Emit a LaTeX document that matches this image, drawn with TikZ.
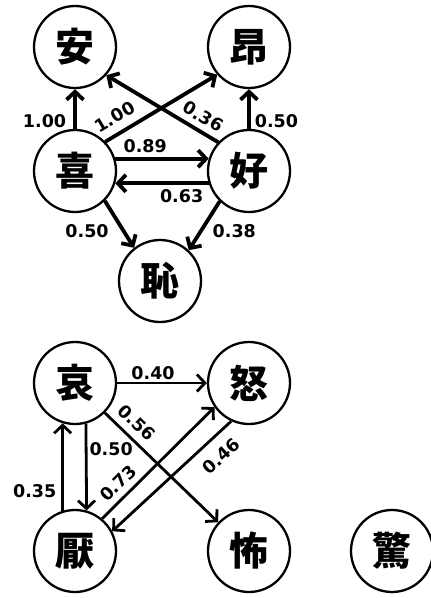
\documentclass[tikz,border=0pt]{standalone}
\usepackage{fontspec}
\setmainfont{DejaVu Sans}
\newfontfamily\cjk{Noto Sans CJK JP}
\usetikzlibrary{arrows.meta}
\begin{document}
\begin{tikzpicture}[x=1pt,y=-1pt,
  emo/.style={circle, draw, line width=2.3pt, minimum size=82pt, inner sep=0pt,
    font=\cjk\bfseries\fontsize{39}{39}\selectfont},
  thick arrow/.style={line width=3.8pt, -{Straight Barb[length=8pt,width=17pt]}},
  thin arrow/.style={line width=2.8pt, -{Straight Barb[length=8pt,width=17pt]}},
  lab/.style={font=\bfseries\fontsize{17.5}{17.5}\selectfont, inner sep=1pt}]
\useasboundingbox (0,0) rectangle (431,598);

% upper cluster
\node[emo] (an)   at (75,47)   {安};
\node[emo] (ang)  at (249,47)  {昂};
\node[emo] (xi)   at (75,171)  {喜};
\node[emo] (hao)  at (249,171) {好};
\node[emo] (chi)  at (160,281) {恥};

\draw[thick arrow] (xi.north) -- node[lab, left=6pt, pos=0.2] {1.00} (an.south);
\draw[thick arrow] (hao.north) -- node[lab, right=3pt, pos=0.2] {0.50} (ang.south);
\draw[thick arrow] (xi.44) -- node[lab, sloped, above=7pt, pos=0.16] {1.00} (ang.221);
\draw[thick arrow] (hao.137) -- node[lab, sloped, above=5pt, pos=0.2] {0.36} (an.318);
\draw[thick arrow] (xi.17) -- node[lab, above=3pt, pos=0.32] {0.89} (hao.163);
\draw[thick arrow] (hao.197) -- node[lab, below=3pt, pos=0.29] {0.63} (xi.343);
\draw[thick arrow] (xi.315) -- node[lab, left=12pt, pos=0.64] {0.50} (chi.128);
\draw[thick arrow] (hao.226) -- node[lab, right=9pt, pos=0.61] {0.38} (chi.47);

% lower cluster
\node[emo] (ai)   at (75,383)  {哀};
\node[emo] (nu)   at (249,383) {怒};
\node[emo] (yan)  at (75,551)  {厭};
\node[emo] (fu)   at (249,551) {怖};
\node[emo] (jing) at (392,551) {驚};

\draw[thin arrow] (ai) -- node[lab, above=1pt, pos=0.4] {0.40} (nu);
\draw[thin arrow] (ai.315) -- node[lab, sloped, above=6pt, pos=0.19] {0.56} (fu.137);
\draw[thin arrow] (ai.285) -- node[lab, right=1pt, pos=0.29] {0.50} (yan.74);
\draw[thin arrow] (yan.107) -- node[lab, left=4pt, pos=0.22] {0.35} (ai.253);
\draw[thin arrow] (yan.50) -- node[lab, sloped, above=5pt, pos=0.23] {0.73} (nu.215);
\draw[thin arrow] (nu.245) -- node[lab, sloped, below=10pt, pos=0.19] {0.46} (yan.28);
\end{tikzpicture}
\end{document}
